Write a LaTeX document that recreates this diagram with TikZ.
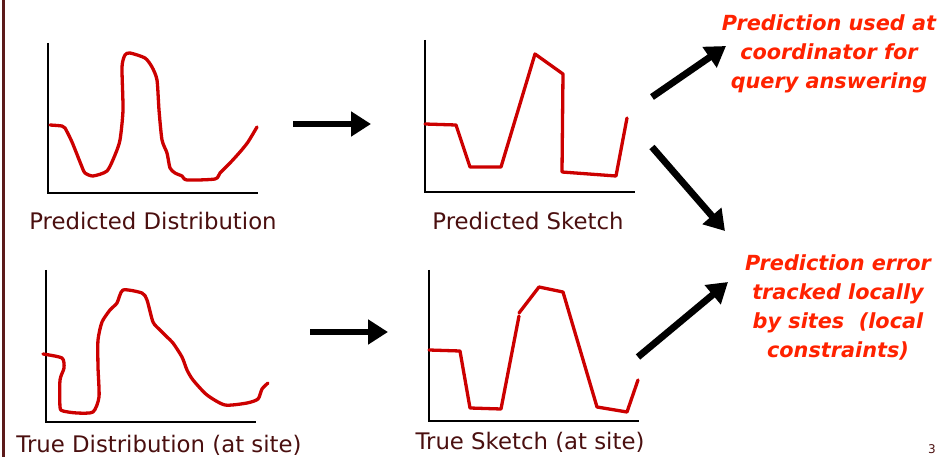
\documentclass[tikz,border=0pt]{standalone}
\usepackage{fontspec}
\setmainfont{DejaVu Sans}
\usepackage{tikz}
\usetikzlibrary{arrows.meta, positioning}
\definecolor{curve}{HTML}{CC0000}
\definecolor{caption}{HTML}{4A0F0F}
\definecolor{note}{HTML}{FF2200}
\definecolor{rule}{HTML}{5C1A1A}

\begin{document}
\begin{tikzpicture}[
    x=1pt, y=-1pt,
    axis/.style={line width=2.8pt, black},
    trace/.style={curve, line width=3.3pt, line join=round, line cap=round},
    legend/.style={text=caption, font=\fontsize{22.8}{24}\selectfont, anchor=center, inner sep=0pt},
    memo/.style={text=note, font=\fontsize{20.8}{29}\selectfont\bfseries\itshape, align=center, inner sep=0pt},
    ar/.style={-{Triangle[length=20pt, width=24pt]}, line width=6.8pt, black}
  ]
    \useasboundingbox (0,0) rectangle (938,457);
    \draw[rule, line width=3pt] (3,0) -- (3,457);
    % predicted distribution
    \draw[axis] (48,43) -- (48,193) -- (258,193);
    \draw[trace] plot[smooth, tension=0.4] coordinates {(50,125) (62,126) (65,128) (72,142) (82,167) (85,173)
      (93,176) (107,171) (115,155) (120,140) (123,110) (122,67) (125,55) (130,53) (145,58)
      (152,67) (157,80) (159,110) (162,140) (167,153) (170,168) (175,173) (182,176) (187,180)
      (215,179) (220,173) (230,163) (240,152) (248,142) (257,127)};
    \node[legend] (pdist) at (153,221) {Predicted Distribution};
    % predicted sketch
    \draw[axis] (425,40) -- (425,192) -- (635,192);
    \draw[trace] (425,124) -- (456,125) -- (470,167) -- (501,167) -- (535,54) -- (563,74)
      -- (562,172) -- (616,176) -- (627,118);
    \node[legend] (psk) at (528,221) {Predicted Sketch};
    % true distribution
    \draw[axis] (46,270) -- (46,422) -- (256,422);
    \draw[trace] plot[smooth, tension=0.4] coordinates {(43,354) (62,358) (64,368) (60,380) (60,407) (63,411)
      (77,413) (93,412) (99,397) (98,367) (98,340) (102,322) (110,310) (117,303) (123,290)
      (142,293) (147,300) (153,322) (160,330) (167,337) (173,343) (182,357) (187,370) (193,380)
      (207,395) (225,405) (247,403) (258,399) (262,389) (268,383)};
    \node[legend] (tdist) at (159,445) {True Distribution (at site)};
    % true sketch
    \draw[axis] (429,270) -- (429,421) -- (639,421);
    \draw[trace] (429,350) -- (460,351) -- (470,408) -- (501,409) -- (519,316);
    \draw[trace] (519,313) -- (539,287) -- (563,292) -- (597,407) -- (627,412) -- (638,380);
    \node[legend] (tsk) at (530,442) {True Sketch (at site)};
    % notes
    \node[memo] (used) at (829,54) {Prediction used at\\coordinator for\\query answering};
    \node[memo] (err) at (838,307) {Prediction error\\tracked locally\\by sites~~(local\\constraints)};
    \node[text=caption, font=\fontsize{12}{13}\selectfont, inner sep=0pt] (pg) at (932,449) {3};
    % arrows
    \coordinate (a1) at (293,124);  \coordinate (b1) at (371,124);
    \coordinate (a2) at (310,332);  \coordinate (b2) at (388,332);
    \coordinate (a3) at (652,97);   \coordinate (b3) at (726,46);
    \coordinate (a4) at (652,147);  \coordinate (b4) at (725,231);
    \coordinate (a5) at (638,357);  \coordinate (b5) at (728,282);
    \draw[ar] (a1)--(b1);  \draw[ar] (a2)--(b2);
    \draw[ar] (a3)--(b3);  \draw[ar] (a4)--(b4);  \draw[ar] (a5)--(b5);
  \end{tikzpicture}
\end{document}
